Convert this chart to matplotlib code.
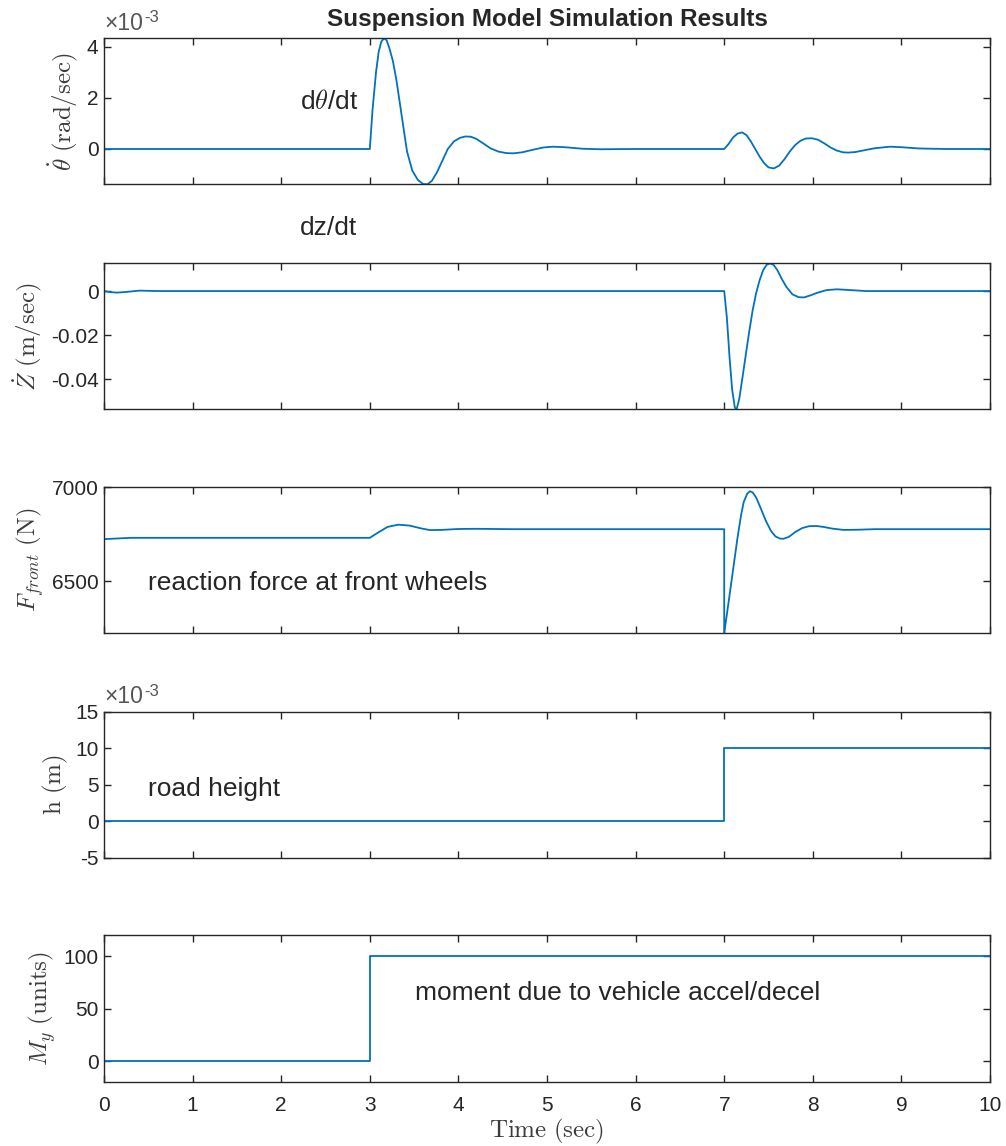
import matplotlib.pyplot as plt
from matplotlib.ticker import FuncFormatter, FormatStrFormatter

# values
t_theta = [0, 3.0, 3.03, 3.07, 3.10, 3.13, 3.16, 3.19, 3.22, 3.26, 3.30, 3.36, 3.42, 3.48, 3.54,
           3.60, 3.65, 3.70, 3.76, 3.82, 3.88, 3.95, 4.02, 4.08, 4.14, 4.20, 4.28, 4.36, 4.45,
           4.54, 4.62, 4.72, 4.84, 4.96, 5.07, 5.2, 5.4, 5.6, 6.0, 7.0, 7.05, 7.1, 7.15, 7.2,
           7.25, 7.3, 7.35, 7.4, 7.45, 7.5, 7.56, 7.62, 7.68, 7.74, 7.8, 7.86, 7.92, 7.99,
           8.06, 8.13, 8.2, 8.27, 8.34, 8.40, 8.48, 8.58, 8.7, 8.87, 9.0, 9.2, 9.5, 10.0]
theta_dot = [0, 0, 1.5e-3, 3.0e-3, 3.8e-3, 4.2e-3, 4.33e-3, 4.25e-3, 3.95e-3, 3.45e-3, 2.7e-3,
             1.3e-3, -0.1e-3, -0.85e-3, -1.2e-3, -1.37e-3, -1.38e-3, -1.25e-3, -0.9e-3,
             -0.45e-3, 0.0, 0.3e-3, 0.44e-3, 0.49e-3, 0.48e-3, 0.4e-3, 0.22e-3, 0.03e-3,
             -0.1e-3, -0.16e-3, -0.17e-3, -0.13e-3, -0.03e-3, 0.06e-3, 0.09e-3, 0.07e-3,
             0.01e-3, -0.01e-3, 0.0, 0.0, 0.2e-3, 0.45e-3, 0.6e-3, 0.65e-3, 0.55e-3, 0.3e-3,
             0.0, -0.3e-3, -0.55e-3, -0.72e-3, -0.76e-3, -0.65e-3, -0.4e-3, -0.1e-3, 0.15e-3,
             0.32e-3, 0.41e-3, 0.42e-3, 0.36e-3, 0.22e-3, 0.06e-3, -0.06e-3, -0.13e-3,
             -0.14e-3, -0.12e-3, -0.05e-3, 0.03e-3, 0.09e-3, 0.07e-3, 0.02e-3, 0.0, 0.0]

t_z = [0, 0.07, 0.15, 0.25, 0.4, 0.6, 7.0, 7.03, 7.06, 7.09, 7.12, 7.14, 7.17, 7.2, 7.24, 7.28,
       7.32, 7.36, 7.40, 7.44, 7.48, 7.52, 7.56, 7.6, 7.65, 7.7, 7.77, 7.84, 7.9, 7.97, 8.05,
       8.15, 8.27, 8.4, 8.6, 10.0]
z_dot = [0, -0.0005, -0.0007, -0.0004, 0.0002, 0.0, 0.0, -0.012, -0.03, -0.045, -0.053,
         -0.0538, -0.049, -0.041, -0.030, -0.019, -0.009, -0.001, 0.005, 0.0095, 0.012,
         0.0126, 0.0118, 0.0095, 0.0055, 0.002, -0.0015, -0.0028, -0.0029, -0.002, -0.0008,
         0.0004, 0.0008, 0.0005, 0.0, 0.0]

t_f = [0, 0.3, 3.0, 3.1, 3.2, 3.32, 3.45, 3.58, 3.68, 3.8, 4.0, 4.2, 4.6, 7.0, 7.0, 7.05, 7.1,
       7.15, 7.19, 7.22, 7.26, 7.29, 7.32, 7.36, 7.41, 7.47, 7.53, 7.58, 7.63, 7.67, 7.73,
       7.8, 7.88, 7.96, 8.04, 8.12, 8.22, 8.35, 8.5, 8.7, 10.0]
f_front = [6723, 6730, 6730, 6760, 6788, 6800, 6795, 6780, 6771, 6772, 6777, 6778, 6776, 6776,
           6222, 6390, 6560, 6730, 6850, 6920, 6965, 6978, 6972, 6945, 6890, 6820, 6765, 6737,
           6726, 6725, 6735, 6760, 6782, 6792, 6793, 6788, 6779, 6772, 6773, 6776, 6776]

t_h = [0, 7, 7, 10]
h_road = [0, 0, 0.01, 0.01]

t_m = [0, 3, 3, 10]
m_y = [0, 0, 100, 100]

plt.rcParams['font.family'] = ['Liberation Sans', 'DejaVu Sans']
plt.rcParams['mathtext.fontset'] = 'custom'
plt.rcParams['mathtext.rm'] = 'Liberation Sans'
plt.rcParams['mathtext.it'] = 'Liberation Sans:italic'
plt.rcParams['axes.unicode_minus'] = False

dark = '#262626'
grey = '#3c3c3c'
blue = '#0072BD'

fig = plt.figure(figsize=(10.06, 11.46), dpi=100)
left, width = 0.1034, 0.8807
boxes = [(0.8392, 0.1274), (0.6428, 0.1274), (0.4474, 0.1279), (0.2516, 0.1274), (0.0556, 0.1285)]
axs = [fig.add_axes([left, b, width, h]) for b, h in boxes]

series = [(t_theta, theta_dot), (t_z, z_dot), (t_f, f_front), (t_h, h_road), (t_m, m_y)]
ylabels = [r'$\dot{\theta}\ \mathrm{(rad/sec)}$', r'$\dot{Z}\ \mathrm{(m/sec)}$',
           r'$F_{front}\ \mathrm{(N)}$', r'$\mathrm{h\ (m)}$', r'$M_y\ \mathrm{(units)}$']
ylims = [(-1.38e-3, 4.33e-3), (-0.0538, 0.0126), (6222, 7002), (-0.005, 0.015), (-20, 120)]
yticks = [[0, 0.002, 0.004], [-0.04, -0.02, 0], [6500, 7000],
          [-0.005, 0, 0.005, 0.01, 0.015], [0, 50, 100]]

for ax, (t, y), lab, yl, yt in zip(axs, series, ylabels, ylims, yticks):
    ax.plot(t, y, color=blue, lw=1.3)
    ax.set_xlim(0, 10)
    ax.set_ylim(*yl)
    ax.set_xticks(range(11))
    ax.set_yticks(yt)
    ax.yaxis.set_major_formatter(FormatStrFormatter('%g'))
    ax.tick_params(direction='in', top=True, right=True, length=5, width=1.0,
                   colors=dark, labelsize=15)
    ax.tick_params(axis='x', pad=10)
    ax.tick_params(axis='y', pad=4)
    for s in ax.spines.values():
        s.set_color(dark)
        s.set_linewidth(1.0)
    ylab = ax.set_ylabel(lab, fontsize=18, color=grey, labelpad=4)
    ylab.set_math_fontfamily('cm')
    if ax is not axs[-1]:
        ax.tick_params(labelbottom=False)

# MATLAB style exponent label (x10^-3) above the y axis
for i in (0, 3):
    axs[i].yaxis.set_major_formatter(FuncFormatter(lambda v, p: '%g' % round(v * 1e3, 6)))
    axs[i].text(0.0, 1.025, '\u00d710', transform=axs[i].transAxes, fontsize=16.5,
                color='#555555', ha='left', va='bottom')
    axs[i].text(0.045, 1.09, '-3', transform=axs[i].transAxes, fontsize=12,
                color='#555555', ha='left', va='bottom')

axs[0].set_title('Suspension Model Simulation Results', fontsize=17.5, fontweight='bold',
                 color=dark, pad=9)
xl = axs[4].set_xlabel(r'$\mathrm{Time\ (sec)}$', fontsize=18, color=grey, labelpad=1)
xl.set_math_fontfamily('cm')

txt = dict(fontsize=19, color=dark, va='center', ha='left')
t1 = axs[0].text(2.21, 1.85e-3, r'd$\theta$/dt', **txt)
t1.set_math_fontfamily('cm')
axs[1].text(2.21, 0.0286, 'dz/dt', clip_on=False, **txt)
axs[2].text(0.5, 6490, 'reaction force at front wheels', **txt)
axs[3].text(0.5, 0.0044, 'road height', **txt)
axs[4].text(3.51, 64.8, 'moment due to vehicle accel/decel', **txt)

fig.savefig('out.png', dpi=100)
